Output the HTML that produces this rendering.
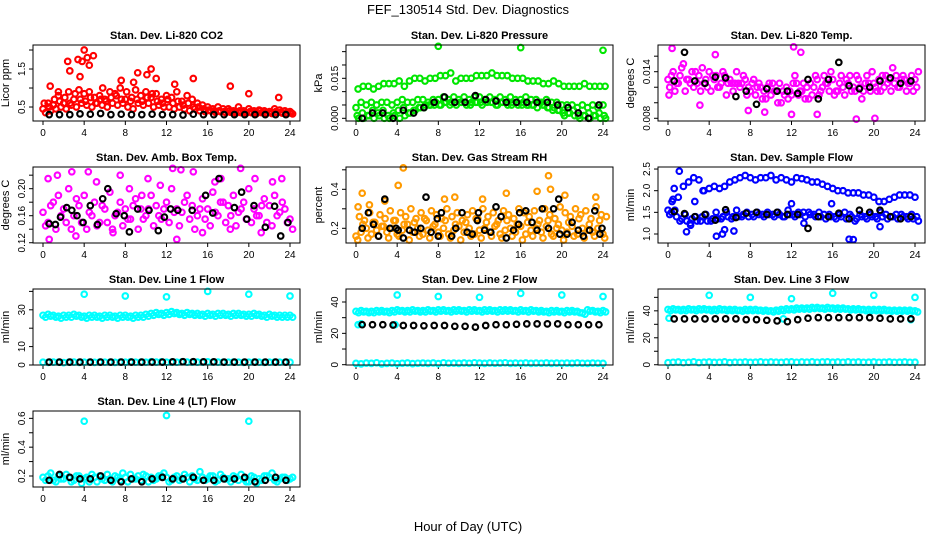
<!DOCTYPE html>
<html><head><meta charset="utf-8"><style>
body{margin:0;background:#fff}
svg{display:block;font-family:"Liberation Sans",Arial,sans-serif}
</style></head><body>
<svg id="chart" width="936" height="540" viewBox="0 0 936 540">
<rect width="936" height="540" fill="#fff"/>
<text x="468" y="14" text-anchor="middle" font-size="13">FEF_130514  Std. Dev. Diagnostics</text>
<text x="468" y="531" text-anchor="middle" font-size="13">Hour of Day (UTC)</text>
</svg>
<script>
const xTickLabels=[0,4,8,12,16,20,24];
const co2Hi=[0.45,0.6,0.55,0.8,0.6,0.9,0.7,0.95,0.85,0.9,0.75,0.8,0.7,0.9,0.85,1.0,0.7,0.65,0.95,0.8,0.9,0.75,0.85,0.7,0.8,0.75,0.9,0.65,0.8,0.7,0.6,0.55,0.5,0.45,0.5,0.45,0.45,0.4,0.5,0.4,0.45,0.4,0.42,0.4,0.38,0.45,0.42,0.4,0.38];
const co2Mid=[0.6,0.5,0.7,0.65,0.75,0.6,0.85,0.7,0.65,0.75,0.6,0.7,0.65,0.75,0.8,0.7,0.9,0.75,0.7,0.65,0.75,0.85,0.65,0.6,0.7,0.6,0.65,0.55,0.6,0.5,0.5,0.45,0.42,0.4,0.4,0.38,0.4,0.36,0.4,0.36,0.38,0.36,0.4,0.35,0.36,0.38,0.36,0.35,0.35];
const co2Lo=[0.35,0.4,0.45,0.5,0.45,0.55,0.5,0.6,0.55,0.5,0.6,0.55,0.5,0.6,0.55,0.6,0.5,0.45,0.6,0.55,0.6,0.5,0.55,0.5,0.5,0.45,0.5,0.45,0.4,0.45,0.4,0.38,0.4,0.36,0.38,0.35,0.36,0.34,0.35,0.34,0.35,0.33,0.35,0.34,0.33,0.35,0.34,0.33,0.32];
const co2OutX=[4.0,2.4,3.4,3.8,4.3,4.9,2.6,4.5,3.6,0.7,10.5,9.2,10.1,11.0,7.6,14.6,18.2,20.0,22.9,1.5,12.8,5.8,8.8];
const co2OutY=[2.0,1.7,1.75,1.7,1.8,1.85,1.45,1.6,1.3,1.05,1.5,1.4,1.35,1.25,1.2,1.25,1.05,0.85,0.75,0.9,1.1,1.0,1.15];
const co2Blk=[0.3,0.3,0.3,0.32,0.31,0.33,0.3,0.31,0.3,0.3,0.31,0.3,0.3,0.29,0.31,0.3,0.3,0.3,0.3,0.3,0.3,0.3,0.3,0.3];

const presUp=[0.011,0.012,0.012,0.011,0.012,0.013,0.013,0.013,0.014,0.012,0.014,0.015,0.015,0.014,0.015,0.015,0.016,0.016,0.017,0.014,0.015,0.015,0.015,0.016,0.016,0.016,0.017,0.016,0.016,0.016,0.015,0.015,0.015,0.014,0.014,0.014,0.013,0.013,0.014,0.013,0.012,0.012,0.012,0.012,0.013,0.012,0.012,0.012,0.012];
const presMid=[0.004,0.006,0.005,0.006,0.005,0.006,0.006,0.005,0.006,0.007,0.006,0.006,0.007,0.007,0.006,0.007,0.007,0.008,0.007,0.008,0.007,0.008,0.007,0.008,0.008,0.007,0.008,0.007,0.008,0.007,0.008,0.007,0.007,0.008,0.007,0.007,0.006,0.007,0.006,0.006,0.005,0.005,0.005,0.004,0.005,0.004,0.005,0.004,0.005];
const presLow=[0.001,0.002,0.001,0.003,0.002,0.003,0.001,0.002,0.003,0.004,0.002,0.003,0.004,0.004,0.005,0.005,0.005,0.006,0.005,0.006,0.006,0.006,0.005,0.006,0.006,0.006,0.006,0.005,0.006,0.006,0.005,0.006,0.005,0.005,0.005,0.004,0.005,0.004,0.003,0.003,0.002,0.002,0.003,0.001,0.001,0.002,0.001,0.002,0.001];
const presBot=[0.0,0.0,0.001,0.0,0.001,0.0,0.0,0.001,0.0,0.001,0.002,0.003,0.004,0.005,0.005,0.006,0.005,0.006,0.006,0.005,0.006,0.005,0.006,0.006,0.005,0.006,0.006,0.005,0.006,0.005,0.006,0.005,0.006,0.005,0.005,0.006,0.005,0.004,0.004,0.003,0.001,0.002,0.001,0.0,0.001,0.0,0.001,0.0,0.0];
const presOutX=[8,16,24];
const presOutY=[0.027,0.0265,0.0255];
const presBlk=[0,0.002,0.002,0,0.003,0.002,0.004,0.006,0.008,0.006,0.006,0.0085,0.007,0.0065,0.006,0.006,0.006,0.006,0.006,0.005,0.004,0.002,0,0.005];

const tempA=[0.013,0.014,0.0125,0.015,0.013,0.012,0.0135,0.0125,0.014,0.013,0.012,0.0135,0.013,0.0125,0.012,0.013,0.0115,0.011,0.012,0.0105,0.011,0.0115,0.01,0.012,0.011,0.0125,0.0115,0.012,0.011,0.013,0.012,0.0125,0.013,0.0115,0.012,0.0125,0.012,0.013,0.0115,0.0125,0.0125,0.013,0.012,0.013,0.0125,0.012,0.013,0.0125,0.013];
const tempB=[0.012,0.0115,0.0135,0.0115,0.0125,0.014,0.0115,0.013,0.0115,0.0135,0.0125,0.011,0.0125,0.014,0.0125,0.011,0.0125,0.012,0.0105,0.012,0.0125,0.01,0.0115,0.0105,0.0125,0.011,0.0125,0.0105,0.012,0.011,0.0135,0.0115,0.011,0.0125,0.011,0.0135,0.0115,0.012,0.0125,0.0115,0.012,0.0115,0.0135,0.0115,0.0135,0.013,0.0115,0.0135,0.012];
const tempC=[0.0135,0.0125,0.0145,0.013,0.014,0.0125,0.0145,0.012,0.0135,0.012,0.014,0.0125,0.0115,0.0125,0.0135,0.012,0.013,0.0125,0.0115,0.0125,0.0115,0.0125,0.011,0.0115,0.0135,0.0115,0.0105,0.0125,0.0135,0.0115,0.0125,0.014,0.0115,0.0135,0.013,0.0115,0.0135,0.0105,0.0135,0.014,0.0115,0.0135,0.0125,0.0145,0.012,0.0135,0.0125,0.0115,0.014];
const tempOutX=[0.4,12.2,4.6,12.9,0.1,3.1,18.3,20.1,12.0,14.5,7.8,9.4];
const tempOutY=[0.017,0.0172,0.0162,0.0165,0.011,0.0097,0.0079,0.008,0.0085,0.0085,0.009,0.0088];
const tempBlk=[0.0128,0.0165,0.0128,0.0125,0.0133,0.0132,0.0108,0.0115,0.0098,0.0118,0.0115,0.0115,0.0112,0.013,0.0105,0.013,0.0152,0.0122,0.0118,0.012,0.0128,0.0132,0.0125,0.0128];

const ambA=[0.165,0.15,0.18,0.19,0.17,0.2,0.16,0.175,0.19,0.165,0.18,0.15,0.17,0.195,0.16,0.18,0.17,0.155,0.185,0.17,0.16,0.19,0.175,0.155,0.18,0.2,0.17,0.165,0.19,0.175,0.16,0.185,0.17,0.195,0.16,0.18,0.175,0.19,0.165,0.18,0.2,0.17,0.16,0.185,0.175,0.19,0.165,0.17,0.155];
const ambB=[0.145,0.175,0.14,0.16,0.15,0.14,0.185,0.15,0.14,0.16,0.145,0.175,0.15,0.14,0.165,0.145,0.155,0.175,0.14,0.155,0.17,0.145,0.16,0.17,0.15,0.165,0.145,0.18,0.155,0.14,0.17,0.155,0.145,0.165,0.18,0.15,0.16,0.145,0.17,0.155,0.15,0.16,0.175,0.15,0.145,0.16,0.18,0.15,0.14];
const ambOutX=[0.5,0.6,1.4,2.8,4.4,3.2,5.2,7.5,8.4,10.2,11.4,12.6,13.4,14.6,13.0,15.5,17.3,18.2,19.2,20.6,21.2,22.3,23.2,6.8,9.6,16.7];
const ambOutY=[0.215,0.125,0.22,0.225,0.225,0.13,0.21,0.22,0.2,0.215,0.205,0.23,0.228,0.225,0.125,0.135,0.215,0.14,0.23,0.215,0.135,0.21,0.215,0.135,0.19,0.21];
const ambBlkX=[0.6,1.2,1.7,2.3,2.8,3.3,3.9,4.6,5.3,5.8,6.3,7.1,7.9,8.4,9.2,10.3,11.2,11.8,12.4,13.1,14.5,15.8,16.5,17.1,18.6,19.3,19.8,20.5,21.6,22.5,23.1,23.8];
const ambBlkY=[0.148,0.147,0.158,0.172,0.168,0.16,0.15,0.175,0.147,0.185,0.2,0.163,0.16,0.136,0.17,0.168,0.138,0.158,0.17,0.168,0.168,0.19,0.164,0.215,0.172,0.195,0.155,0.175,0.143,0.174,0.13,0.15];

const rhA=[0.16,0.18,0.2,0.17,0.19,0.21,0.18,0.2,0.17,0.19,0.22,0.18,0.2,0.17,0.19,0.21,0.18,0.2,0.17,0.19,0.21,0.18,0.2,0.17,0.19,0.2,0.18,0.21,0.17,0.19,0.2,0.18,0.21,0.17,0.19,0.2,0.18,0.21,0.17,0.2,0.19,0.18,0.21,0.17,0.2,0.19,0.18,0.2,0.17];
const rhB=[0.26,0.24,0.28,0.23,0.27,0.25,0.29,0.24,0.28,0.26,0.3,0.25,0.28,0.24,0.29,0.27,0.25,0.3,0.26,0.28,0.24,0.27,0.29,0.25,0.3,0.26,0.28,0.24,0.29,0.27,0.25,0.3,0.28,0.26,0.29,0.24,0.3,0.27,0.25,0.31,0.28,0.26,0.3,0.27,0.29,0.25,0.31,0.27,0.26];
const rhC=[0.14,0.22,0.15,0.23,0.16,0.21,0.15,0.24,0.16,0.22,0.14,0.23,0.16,0.25,0.15,0.22,0.16,0.24,0.15,0.22,0.14,0.23,0.16,0.25,0.15,0.23,0.16,0.22,0.15,0.24,0.16,0.22,0.14,0.23,0.16,0.22,0.15,0.24,0.16,0.22,0.14,0.23,0.16,0.25,0.15,0.22,0.16,0.24,0.15];
const rhOutX=[4.6,4.1,0.6,18.7,14.6,17.6,18.9,20.3,8.6,23.3,12.3,9.6,0.2,1.3,2.8];
const rhOutY=[0.51,0.42,0.38,0.47,0.38,0.39,0.4,0.37,0.35,0.36,0.35,0.36,0.31,0.32,0.34];
const rhBlkX=[0.6,1.2,1.7,2.2,2.8,3.3,3.9,4.1,4.6,5.2,5.7,6.3,6.8,7.3,7.9,8.0,8.3,9.3,9.7,10.3,10.8,11.3,11.8,11.9,12.5,13.1,13.6,14.1,14.6,15.3,15.8,15.9,16.5,17.1,17.6,18.1,18.7,19.2,19.7,19.8,20.5,21.0,21.6,22.1,22.7,23.2,23.7,23.9];
const rhBlkY=[0.2,0.28,0.22,0.16,0.35,0.2,0.2,0.19,0.15,0.19,0.18,0.2,0.36,0.18,0.25,0.16,0.28,0.16,0.2,0.28,0.18,0.17,0.24,0.28,0.19,0.18,0.31,0.26,0.15,0.19,0.22,0.28,0.29,0.23,0.19,0.3,0.2,0.3,0.35,0.17,0.17,0.23,0.19,0.16,0.19,0.29,0.17,0.2];

const flowHi=[1.55,1.8,1.85,2.1,2.2,2.3,2.25,2.0,2.05,2.1,2.05,2.1,2.2,2.25,2.3,2.35,2.3,2.25,2.3,2.3,2.35,2.25,2.3,2.25,2.2,2.3,2.28,2.25,2.2,2.2,2.15,2.1,2.05,2.0,2.0,1.95,1.95,1.95,1.9,1.9,1.85,1.75,1.75,1.8,1.85,1.9,1.9,1.9,1.85];
const flowMid=[1.45,1.55,1.3,1.45,1.25,1.4,1.3,1.45,1.3,1.5,1.35,1.5,1.35,1.55,1.4,1.5,1.45,1.5,1.45,1.5,1.45,1.5,1.4,1.55,1.45,1.5,1.5,1.5,1.45,1.5,1.45,1.45,1.4,1.45,1.5,1.45,1.3,1.45,1.4,1.45,1.4,1.5,1.45,1.4,1.45,1.45,1.4,1.45,1.4];
const flowLo=[1.5,1.4,1.35,1.3,1.35,1.3,1.4,1.3,1.35,1.35,1.4,1.4,1.4,1.4,1.45,1.4,1.4,1.45,1.4,1.45,1.4,1.45,1.4,1.45,1.4,1.45,1.4,1.45,1.4,1.4,1.35,1.4,1.35,1.4,1.35,1.4,1.35,1.4,1.35,1.4,1.35,1.4,1.35,1.4,1.35,1.4,1.35,1.35,1.3];
const flowOutX=[1.1,0.4,0.6,1.8,2.2,4.7,5.3,5.5,6.4,17.6,18.0,20.6,13.2,2.6,3.4,12.0,15.9];
const flowOutY=[2.45,1.75,2.05,1.05,1.2,0.95,1.0,1.1,1.07,0.88,0.87,1.17,1.25,1.75,2.0,1.7,1.7];
const flowBlk=[1.52,1.47,1.4,1.45,1.32,1.56,1.38,1.48,1.5,1.45,1.5,1.45,1.45,1.13,1.4,1.4,1.48,1.35,1.55,1.5,1.55,1.4,1.35,1.4];

const l1Band=[27,27.5,27,26.5,27,27,27.5,27,26.5,27,27,26.5,27,27,26.5,27,27,26.5,27,27,27.5,28,28.5,28,28.5,29,28.5,28,28.5,28,28,27.5,28,27.5,28,28,27.5,28,28,27.5,27.5,28,27.5,27,27.5,27,27,27,27];
const l1Low=[1.5,1.4,1.6,1.5,1.3,1.5,1.6,1.4,1.5,1.5,1.4,1.6,1.5,1.5,1.4,1.6,1.5,1.7,1.5,1.6,1.5,1.8,1.6,1.7,1.5,1.6,1.5,1.7,1.6,1.5,1.6,1.5,1.7,1.5,1.6,1.5,1.5,1.6,1.5,1.4,1.5,1.6,1.5,1.4,1.5,1.6,1.5,1.5,1.5];
const l1OutX=[4,8,12,16,20,24];
const l1OutY=[38.5,37.5,37,40,38.5,37.5];
const l1Blk=[1.6,1.6,1.6,1.6,1.6,1.6,1.6,1.6,1.6,1.6,1.6,1.6,1.7,1.8,1.8,1.7,1.7,1.6,1.6,1.6,1.6,1.6,1.6,1.6];

const l2Band=[34,34.5,34,34,34.5,34.5,34,34.5,35,34.5,34.5,35,34.5,34.5,35,34.5,35,35,34.5,35,35,34.5,35,35,34.5,35,35,34.5,35,35,35,34.5,35,34.5,35,34.5,34.5,34,34.5,34.5,34,34.5,34.5,34,33,35,34.5,34,34.5];
const l2Mid=[25.5,26,25.5];
const l2MidX=[0.2,0.5,3.8];
const l2Low=[0.8,0.5,1.0,0.8,1.2,0.5,0.8,1.0,0.6,0.9,1.1,0.7,0.9,1.0,0.8,1.1,0.7,1.2,0.9,1.0,0.8,1.1,0.9,1.2,1.0,0.8,1.1,0.9,1.0,1.2,0.8,1.0,0.9,1.1,0.8,1.0,0.9,1.1,0.8,1.0,0.9,1.0,0.8,1.1,0.9,0.8,1.0,0.9,0.8];
const l2OutX=[4,8,12,16,20,24];
const l2OutY=[44.5,43.5,43,45.5,44.5,43.5];
const l2Blk=[25.5,25.5,25.5,25.3,25,25,24.8,25,25,24.5,24.5,24,25,25.5,25.5,25.8,26,26,26,26,25.5,25.5,25.5,25.5];

const l3Band=[41,41.5,41,41,41.5,41,41.5,41.5,41,41,41.5,41,41,41,40.5,41,41,41,40.5,40.5,40,40.5,41,41.5,41.5,42,42,42,42.5,42.5,42,42.5,42,42,42,41.5,41.5,41.5,41,41,41,41,41,40.5,40.5,40.5,40.5,40.5,40];
const l3Mid=[34.5,34,33.5];
const l3MidX=[0.1,11.2,23.6];
const l3Low=[1.5,1.8,2.0,1.5,1.8,2.2,1.6,1.9,2.0,1.7,1.8,2.1,1.6,1.9,1.8,2.0,1.7,1.9,2.1,1.8,2.0,1.9,1.7,2.0,2.1,1.8,2.0,1.9,2.1,1.8,2.0,2.1,1.9,2.0,1.8,2.1,1.9,2.0,1.8,1.9,2.0,1.8,1.9,2.0,1.8,1.9,2.0,1.8,1.9];
const l3OutX=[4,8,12,16,20,24];
const l3OutY=[51.5,50,49,53,51.5,50];
const l3Blk=[34,34,34,34,34,34,34,33.5,33.5,33,32.5,32,33.5,34.5,35,35,35,35,35,35,34.5,34,34,34];

const l4A=[0.19,0.2,0.17,0.2,0.18,0.19,0.17,0.2,0.18,0.16,0.19,0.2,0.17,0.18,0.2,0.17,0.19,0.21,0.18,0.17,0.2,0.19,0.18,0.2,0.19,0.17,0.2,0.18,0.19,0.2,0.17,0.19,0.18,0.2,0.17,0.19,0.18,0.2,0.17,0.18,0.16,0.19,0.18,0.2,0.19,0.17,0.18,0.19,0.18];
const l4B=[0.17,0.22,0.16,0.18,0.21,0.16,0.2,0.15,0.19,0.21,0.16,0.18,0.21,0.16,0.19,0.22,0.16,0.18,0.2,0.21,0.16,0.17,0.2,0.22,0.16,0.19,0.17,0.21,0.16,0.18,0.23,0.17,0.2,0.16,0.21,0.18,0.16,0.19,0.21,0.16,0.2,0.15,0.17,0.2,0.22,0.16,0.19,0.17,0.19];
const l4OutX=[4,12,20];
const l4OutY=[0.58,0.62,0.58];
const l4Blk=[0.17,0.21,0.19,0.18,0.18,0.2,0.17,0.16,0.18,0.16,0.18,0.19,0.18,0.18,0.19,0.17,0.17,0.18,0.18,0.19,0.16,0.17,0.19,0.17];

const svg=document.getElementById('chart');
const NS='http://www.w3.org/2000/svg';
function mk(tag,attrs,parent){const e=document.createElementNS(NS,tag);for(const k in attrs)e.setAttribute(k,attrs[k]);(parent||svg).appendChild(e);return e;}
const colLeft=[33,346,658],rowTop=[45,167,289,411],BW=267,BH=76;
const half=a=>a.map((v,i)=>i*0.5);
const hourly=a=>a.map((v,i)=>i+0.6);
function S(xs,ys,color,off,name){return {xs,ys,color,off:off||0,name};}
const RED='#ff0000',GRN='#00e600',MAG='#ff00ff',ORG='#ff9a00',BLU='#0000ff',CYN='#00ffff',BLK='#000000';
const panels=[
 {c:0,r:0,title:'Stan. Dev. Li-820 CO2',ylab:'Licor ppm',ylim:[0.132,2.132],ticks:[0.5,1,1.5,2],labs:['0.5','','1.5',''],
  series:[S(half(co2Lo),co2Lo,RED,0.25,'co2-low'),S(half(co2Mid),co2Mid,RED,0.12,'co2-mid'),S(half(co2Hi),co2Hi,RED,0,'co2-high'),S(co2OutX,co2OutY,RED,0,'co2-outlier'),S(hourly(co2Blk),co2Blk,BLK,0,'co2-black')]},
 {c:1,r:0,title:'Stan. Dev. Li-820 Pressure',ylab:'kPa',ylim:[-0.00101,0.02749],ticks:[0,0.005,0.01,0.015,0.02,0.025],labs:['0.000','','','0.015','',''],
  series:[S(half(presBot),presBot,GRN,0.25,'pressure-bottom'),S(half(presLow),presLow,GRN,0.12,'pressure-low'),S(half(presMid),presMid,GRN,0,'pressure-mid'),S(half(presUp),presUp,GRN,0.2,'pressure-upper'),S(presOutX,presOutY,GRN,0,'pressure-outlier'),S(hourly(presBlk),presBlk,BLK,0,'pressure-black')]},
 {c:2,r:0,title:'Stan. Dev. Li-820 Temp.',ylab:'degrees C',ylim:[0.00765,0.01744],ticks:[0.008,0.01,0.012,0.014,0.016],labs:['0.008','','','0.014',''],
  series:[S(half(tempA),tempA,MAG,0,'temp-a'),S(half(tempB),tempB,MAG,0.17,'temp-b'),S(half(tempC),tempC,MAG,0.33,'temp-c'),S(tempOutX,tempOutY,MAG,0,'temp-outlier'),S(hourly(tempBlk),tempBlk,BLK,0,'temp-black')]},
 {c:0,r:1,title:'Stan. Dev. Amb. Box Temp.',ylab:'degrees C',ylim:[0.1196,0.2321],ticks:[0.12,0.14,0.16,0.18,0.2,0.22],labs:['0.12','','0.16','','0.20',''],
  series:[S(half(ambA),ambA,MAG,0,'ambtemp-a'),S(half(ambB),ambB,MAG,0.25,'ambtemp-b'),S(ambOutX,ambOutY,MAG,0,'ambtemp-outlier'),S(ambBlkX,ambBlkY,BLK,0,'ambtemp-black')]},
 {c:1,r:1,title:'Stan. Dev. Gas Stream RH',ylab:'percent',ylim:[0.1246,0.5144],ticks:[0.2,0.3,0.4,0.5],labs:['0.2','','0.4',''],
  series:[S(half(rhA),rhA,ORG,0,'rh-a'),S(half(rhC),rhC,ORG,0.17,'rh-c'),S(half(rhB),rhB,ORG,0.33,'rh-b'),S(rhOutX,rhOutY,ORG,0,'rh-outlier'),S(rhBlkX,rhBlkY,BLK,0,'rh-black')]},
 {c:2,r:1,title:'Stan. Dev. Sample Flow',ylab:'ml/min',ylim:[0.792,2.547],ticks:[1,1.5,2,2.5],labs:['1.0','1.5','2.0','2.5'],
  series:[S(half(flowHi),flowHi,BLU,0,'flow-high'),S(half(flowMid),flowMid,BLU,0.17,'flow-mid'),S(half(flowLo),flowLo,BLU,0.33,'flow-low'),S(flowOutX,flowOutY,BLU,0,'flow-outlier'),S(hourly(flowBlk),flowBlk,BLK,0,'flow-black')]},
 {c:0,r:2,title:'Stan. Dev. Line 1 Flow',ylab:'ml/min',ylim:[0,41.3],ticks:[0,10,20,30,40],labs:['0','10','','30',''],
  series:[S(half(l1Band),l1Band,CYN,0,'line1-band'),S(half(l1Band),l1Band.map(v=>v-1),CYN,0.25,'line1-band-low'),S(half(l1Low),l1Low,CYN,0,'line1-low'),S(l1OutX,l1OutY,CYN,0,'line1-outlier'),S(hourly(l1Blk),l1Blk,BLK,0,'line1-black')]},
 {c:1,r:2,title:'Stan. Dev. Line 2 Flow',ylab:'ml/min',ylim:[-0.2,48.3],ticks:[0,10,20,30,40],labs:['0','','20','','40'],
  series:[S(half(l2Band),l2Band,CYN,0,'line2-band'),S(half(l2Band),l2Band.map(v=>v-0.8),CYN,0.25,'line2-band-low'),S(l2MidX,l2Mid,CYN,0,'line2-mid'),S(half(l2Low),l2Low,CYN,0,'line2-low'),S(l2OutX,l2OutY,CYN,0,'line2-outlier'),S(hourly(l2Blk),l2Blk,BLK,0,'line2-black')]},
 {c:2,r:2,title:'Stan. Dev. Line 3 Flow',ylab:'ml/min',ylim:[-0.2,56.2],ticks:[0,10,20,30,40,50],labs:['0','','20','','40',''],
  series:[S(half(l3Band),l3Band,CYN,0,'line3-band'),S(half(l3Band),l3Band.map(v=>v-0.8),CYN,0.25,'line3-band-low'),S(l3MidX,l3Mid,CYN,0,'line3-mid'),S(half(l3Low),l3Low,CYN,0,'line3-low'),S(l3OutX,l3OutY,CYN,0,'line3-outlier'),S(hourly(l3Blk),l3Blk,BLK,0,'line3-black')]},
 {c:0,r:3,title:'Stan. Dev. Line 4 (LT) Flow',ylab:'ml/min',ylim:[0.1236,0.651],ticks:[0.2,0.3,0.4,0.5,0.6],labs:['0.2','','0.4','','0.6'],
  series:[S(half(l4A),l4A,CYN,0,'line4-a'),S(half(l4B),l4B,CYN,0.25,'line4-b'),S(l4OutX,l4OutY,CYN,0,'line4-outlier'),S(hourly(l4Blk),l4Blk,BLK,0,'line4-black')]}
];
panels.forEach((p,pi)=>{
  const L=colLeft[p.c],T=rowTop[p.r],B=T+BH;
  const g=mk('g',{});
  
  
  const xs=h=>L+10+h*(247/24);
  const ys=v=>B-(v-p.ylim[0])/(p.ylim[1]-p.ylim[0])*BH;
  const t=mk('text',{x:L+BW/2,y:T-6,'text-anchor':'middle','font-size':'11','font-weight':'bold'},g);t.textContent=p.title;
  
  
  const yl=mk('text',{transform:`translate(${L-24},${T+BH/2}) rotate(-90)`,'text-anchor':'middle','font-size':'11'},g);yl.textContent=p.ylab;
  
  
  xTickLabels.forEach(h=>{
    const x=xs(h);
    mk('line',{x1:x,y1:B,x2:x,y2:B+4,stroke:'#000','stroke-width':1},g);
    const tl=mk('text',{x:x,y:B+15,'text-anchor':'middle','font-size':'10'},g);tl.textContent=h;
    
    
  });
  p.ticks.forEach((v,i)=>{
    const y=ys(v);
    mk('line',{x1:L-4,y1:y,x2:L,y2:y,stroke:'#000','stroke-width':1},g);
    if(p.labs[i]){const tl=mk('text',{transform:`translate(${L-8},${y}) rotate(-90)`,'text-anchor':'middle','font-size':'10'},g);tl.textContent=p.labs[i];
      
      }
  });
  const clip=mk('g',{},g);
  p.series.forEach(s=>{
    const sg=mk('g',{fill:'none',stroke:s.color,'stroke-width':2.1},clip);
    
    
    s.ys.forEach((v,i)=>{
      const c=mk('circle',{cx:xs(s.xs[i]+s.off).toFixed(1),cy:ys(v).toFixed(1),r:2.8},sg);
      
      
    });
  });
  const box=mk('rect',{x:L,y:T,width:BW,height:BH,fill:'none',stroke:'#000','stroke-width':1},g);
  
  
});
</script>
</body></html>
